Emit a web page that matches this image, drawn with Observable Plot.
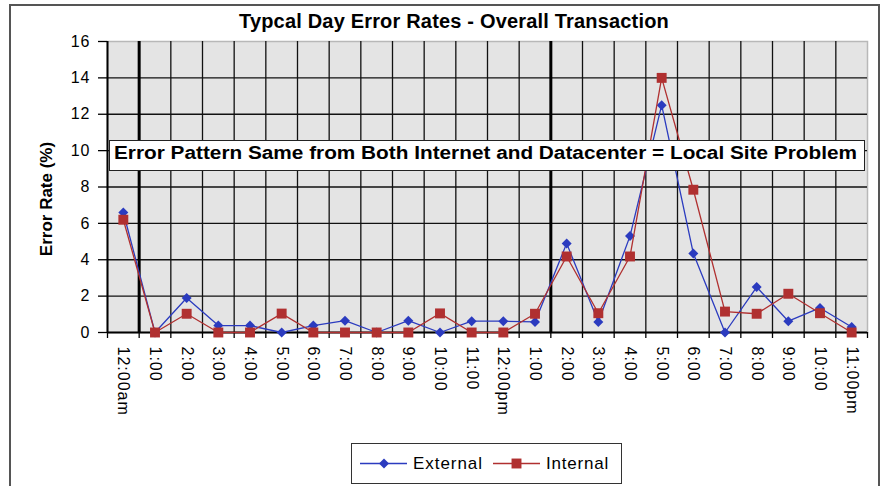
<!DOCTYPE html>
<html><head><meta charset="utf-8">
<script src="https://cdn.jsdelivr.net/npm/d3@7"></script>
<script src="https://cdn.jsdelivr.net/npm/@observablehq/plot@0.6"></script>
<style>
html,body{margin:0;padding:0;background:#fff;}
#wrap{position:relative;width:885px;height:486px;overflow:hidden;background:#fff;font-family:"Liberation Sans",Arial,sans-serif;color:#000;}
#border{position:absolute;left:9px;top:4px;width:871px;height:520px;border:2px solid #555;box-sizing:border-box;}
#chart{position:absolute;left:0;top:0;}
#chart svg text{letter-spacing:1px;}
.abs{position:absolute;white-space:nowrap;}
#title{left:454px;top:11px;font-weight:bold;font-size:20px;line-height:20px;transform:translateX(-50%);}
#note{left:109px;top:140px;width:756px;height:31px;background:#fff;border:1.5px solid #222;box-sizing:border-box;}
#notetext{left:485px;top:144px;font-weight:bold;font-size:18px;line-height:18px;transform-origin:0 0;}
#ylab{left:46px;top:199px;font-weight:bold;font-size:17px;line-height:17px;transform:translate(-50%,-50%) rotate(-90deg);}
#legend{left:351px;top:443px;width:271px;height:41px;border:1px solid #333;box-sizing:border-box;background:#fff;}
.legtext{font-size:17px;line-height:17px;}
</style>
</head><body>
<div id="wrap">
  <div id="border"></div>
  <div id="chart"></div>
  <div id="note" class="abs"></div>
  <div id="notetext" class="abs"></div>
  <div id="title" class="abs"></div>
  <div id="ylab" class="abs"></div>
  <div id="legend" class="abs"></div>
  <svg id="legsw" class="abs" style="left:0;top:0" width="885" height="486"></svg>
  <div id="leg1" class="abs legtext"></div>
  <div id="leg2" class="abs legtext"></div>
</div>
<script>
const titleText = "Typcal Day Error Rates - Overall Transaction";
const noteText = "Error Pattern Same from Both Internet and Datacenter = Local Site Problem";
const yLabel = "Error Rate (%)";
const seriesNames = ["External", "Internal"];
const seriesColors = ["#2b3bbf", "#b03030"];

const labels = ["12:00am","1:00","2:00","3:00","4:00","5:00","6:00","7:00","8:00","9:00","10:00","11:00",
                "12:00pm","1:00","2:00","3:00","4:00","5:00","6:00","7:00","8:00","9:00","10:00","11:00pm"];
const external = [6.6,0,1.9,0.38,0.38,0,0.38,0.65,0,0.65,0,0.62,0.62,0.58,4.9,0.58,5.3,12.5,4.35,0,2.5,0.62,1.35,0.3];
const internal = [6.2,0,1.03,0,0,1.04,0,0,0,0,1.05,0,0,1.03,4.18,1.06,4.18,14.0,7.85,1.15,1.03,2.13,1.06,0];
const dividers = [0, 13]; // heavy divider after these category indices
const yTicks = [0,2,4,6,8,10,12,14,16];

const rows = labels.flatMap((l, i) => [
  {i, label: l, series: seriesNames[0], v: external[i]},
  {i, label: l, series: seriesNames[1], v: internal[i]}
]);
const idx = labels.map((_, i) => i);
const edges = d3.range(-0.5, labels.length, 1);
const inner = edges.slice(1, -1);

const chart = Plot.plot({
  width: 885, height: 486,
  marginLeft: 107, marginRight: 18, marginTop: 41, marginBottom: 154,
  style: {background: "transparent", fontFamily: "Liberation Sans, Arial, sans-serif", fontSize: "16px", color: "#000", overflow: "visible"},
  x: {domain: [-0.5, labels.length - 0.5]},
  y: {domain: [0, 16]},
  marks: [
    Plot.frame({fill: "#e4e4e4", stroke: "#b8b8b8", strokeWidth: 1.5}),
    Plot.ruleY(yTicks.filter(d => d > 0 && d < 16), {stroke: "#111", strokeWidth: 1.3}),
    Plot.ruleX(inner, {stroke: "#111", strokeWidth: 1.3}),
    Plot.ruleX(dividers.map(d => d + 0.5), {stroke: "#000", strokeWidth: 3}),
    Plot.axisY({ticks: yTicks, tickSize: 9, tickPadding: 8, label: null, tickFormat: d => String(d), stroke: "#000", strokeWidth: 1.3}),
    Plot.axisX({ticks: edges, tickSize: 6, tickFormat: () => "", label: null, strokeWidth: 1.3}),
    Plot.axisX({ticks: idx, tickSize: 0, tickPadding: 14, tickRotate: 90, tickFormat: i => labels[i], label: null}),
    Plot.ruleX([-0.5], {stroke: "#000", strokeWidth: 2}),
    Plot.ruleY([0], {stroke: "#000", strokeWidth: 2}),
    Plot.line(rows.filter(d => d.series === seriesNames[0]), {x: "i", y: "v", stroke: seriesColors[0], strokeWidth: 1.3}),
    Plot.dot(rows.filter(d => d.series === seriesNames[0]), {x: "i", y: "v", symbol: "diamond2", r: 4.5, fill: seriesColors[0]}),
    Plot.line(rows.filter(d => d.series === seriesNames[1]), {x: "i", y: "v", stroke: seriesColors[1], strokeWidth: 1.3}),
    Plot.dot(rows.filter(d => d.series === seriesNames[1]), {x: "i", y: "v", symbol: "square", r: 5.6, fill: seriesColors[1]})
  ]
});
document.getElementById("chart").appendChild(chart);

function fit(el, target) {
  el.style.letterSpacing = "0px";
  const w = el.getBoundingClientRect().width;
  const n = el.textContent.length;
  el.style.letterSpacing = ((target - w) / n) + "px";
}
function fitScale(el, target, cx) {
  const w = el.getBoundingClientRect().width;
  const k = target / w;
  el.style.left = (cx - target / 2) + "px";
  el.style.transform = "scaleX(" + k + ")";
}
const t = document.getElementById("title"); t.textContent = titleText;
const nt = document.getElementById("notetext"); nt.textContent = noteText;
const yl = document.getElementById("ylab"); yl.textContent = yLabel;
fit(t, 430); fitScale(nt, 743, 485);

// legend
const leg1 = document.getElementById("leg1"), leg2 = document.getElementById("leg2");
leg1.textContent = seriesNames[0]; leg2.textContent = seriesNames[1];
leg1.style.left = "413px"; leg1.style.top = "455px";
leg2.style.left = "546px"; leg2.style.top = "455px";
fit(leg1, 70); fit(leg2, 63);
const sw = d3.select("#legsw");
sw.append("line").attr("x1", 360).attr("x2", 407).attr("y1", 463.5).attr("y2", 463.5).attr("stroke", seriesColors[0]).attr("stroke-width", 1.3);
sw.append("path").attr("d", d3.symbol(d3.symbolDiamond2, Math.PI * 4.5 * 4.5)()).attr("transform", "translate(384,463.5)").attr("fill", seriesColors[0]);
sw.append("line").attr("x1", 493).attr("x2", 540).attr("y1", 463.5).attr("y2", 463.5).attr("stroke", seriesColors[1]).attr("stroke-width", 1.3);
sw.append("path").attr("d", d3.symbol(d3.symbolSquare, Math.PI * 5.6 * 5.6)()).attr("transform", "translate(516.5,463.5)").attr("fill", seriesColors[1]);
</script>
</body></html>
